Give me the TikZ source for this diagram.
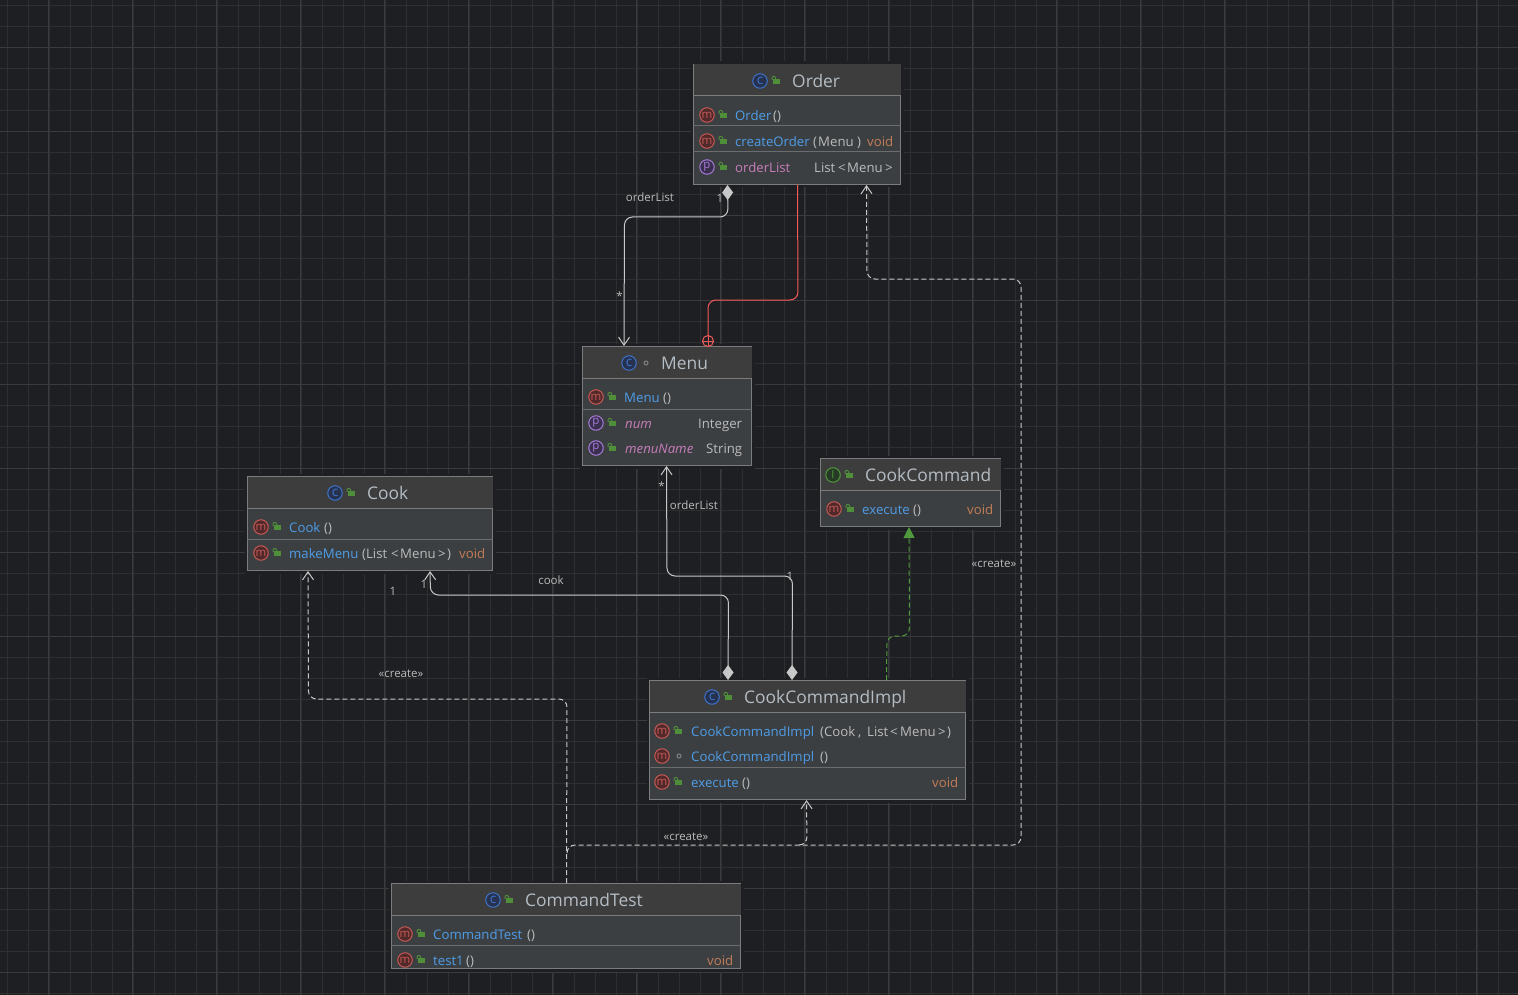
\documentclass[tikz,border=0pt]{standalone}
\usepackage{fontspec}
\setmainfont{Open Sans}
\usetikzlibrary{arrows.meta}
\definecolor{bgc}{HTML}{1E1F22}
\definecolor{gridmin}{HTML}{2E2F31}
\definecolor{gridmaj}{HTML}{3A3B3C}
\definecolor{hdrc}{HTML}{3D3D3D}
\definecolor{bodyc}{HTML}{3C3F41}
\definecolor{edgec}{HTML}{7C7C7C}
\definecolor{divc}{HTML}{6A6C6E}
\definecolor{bluet}{HTML}{4E9DE8}
\definecolor{greyt}{HTML}{BBBBBB}
\definecolor{oranget}{HTML}{C27D57}
\definecolor{pinkt}{HTML}{C77DBB}
\definecolor{titlet}{HTML}{B4BCC4}
\definecolor{lockc}{HTML}{4F8F3A}
\definecolor{linec}{HTML}{C8C8C8}
\definecolor{redl}{HTML}{F25A5A}
\definecolor{greenl}{HTML}{4F9A3C}
\definecolor{mring}{HTML}{C85A56}
\definecolor{mfill}{HTML}{51292B}
\definecolor{pring}{HTML}{A77BD8}
\definecolor{pfill}{HTML}{3B2F50}
\definecolor{cring}{HTML}{3F74CC}
\definecolor{cfill}{HTML}{26324F}
\definecolor{iring}{HTML}{4F9A3C}
\definecolor{ifill}{HTML}{263A26}
\newcounter{txtn}
\tikzset{
  x=1pt,y=-1pt,
  umlbox/.style={rectangle,draw=edgec,fill=bodyc,line width=1pt,inner sep=0pt,
    preaction={draw=bgc,line width=6pt}},
  rowtext/.style={anchor=base west,inner sep=0pt,font=\fontsize{13.2}{16}\selectfont},
  titletext/.style={anchor=base west,inner sep=0pt,text=titlet,font=\fontsize{17.4}{20}\selectfont},
  lbl/.style={anchor=center,inner sep=0pt,text=greyt,font=\fontsize{11.5}{14}\selectfont},
  ringc/.style={circle,draw=#1,line width=1pt,minimum size=14.5pt,inner sep=0pt},
  assoc/.style={draw=linec,line width=1pt,rounded corners=8pt},
  dashedl/.style={draw=linec,line width=1pt,rounded corners=8pt,dash pattern=on 5pt off 3pt},
  barb/.style={-{Straight Barb[length=8pt,width=11pt,line width=1pt]}},
  compb/.style={{Diamond[length=15pt,width=11pt,fill=linec]}-{Straight Barb[length=8pt,width=11pt,line width=1pt]}},
}
% box: name x0 y0 x1 y1 headerbottom
\newcommand{\umlb}[6]{%
  \pgfmathsetmacro{\bw}{#4-#2+1}\pgfmathsetmacro{\bh}{#5-#3+1}%
  \pgfmathsetmacro{\bx}{(#2+#4)/2}\pgfmathsetmacro{\by}{(#3+#5)/2}%
  \pgfmathsetmacro{\hh}{#6-#3}%
  \node[umlbox,minimum width=\bw pt,minimum height=\bh pt] (#1) at (\bx,\by) {};
  \fill[hdrc] ([shift={(.5pt,-.5pt)}]#1.north west) rectangle ([shift={(-.5pt,-\hh pt)}]#1.north east);
  \draw[edgec,line width=1pt] ([yshift=-\hh pt]#1.north west) -- ([yshift=-\hh pt]#1.north east);
}
\newcommand{\divl}[2]{\pgfmathsetmacro{\dd}{#2}\draw[divc,line width=1pt] ([yshift=-\dd pt]#1.north west) -- ([yshift=-\dd pt]#1.north east);}
% text
\newcommand{\rt}[4]{\stepcounter{txtn}\node[rowtext,text=#3] (r\thetxtn) at (#1,#2+5) {#4};}
\newcommand{\ttl}[3]{\stepcounter{txtn}\node[titletext] (r\thetxtn) at (#1,#2+6) {#3};}
\newcommand{\lab}[3]{\stepcounter{txtn}\node[lbl] (r\thetxtn) at (#1,#2) {#3};}
% icon
\newcommand{\ico}[6]{\stepcounter{txtn}\node[ringc=#4,fill=#5,text=#4,font=\fontsize{#6}{12}\selectfont] (r\thetxtn) at (#1,#2) {#3};}
\newcommand{\mi}[2]{\ico{#1}{#2}{m}{mring}{mfill}{11.5}}
\newcommand{\pii}[2]{\ico{#1}{#2}{p}{pring}{pfill}{11.5}}
\newcommand{\ci}[2]{\ico{#1}{#2}{c}{cring}{cfill}{13.5}}
\newcommand{\ii}[2]{\ico{#1}{#2}{I}{iring}{ifill}{11}}
\newcommand{\lk}[2]{\fill[lockc] (#1-3,#2-2) rectangle (#1+4,#2+3);\draw[lockc,line width=1pt,rounded corners=1pt] (#1-4,#2-1) -- (#1-4,#2-4.5) -- (#1-.5,#2-4.5) -- (#1-.5,#2-2);}
\newcommand{\dt}[2]{\draw[gray,line width=1pt] (#1,#2) circle (2pt);}
\begin{document}
\begin{tikzpicture}
\useasboundingbox (0,0) rectangle (1518,995);
\fill[bgc] (0,0) rectangle (1518,995);
\foreach \i in {0,...,72} {\draw[gridmin,line width=1pt] (7+21*\i,0) -- (7+21*\i,995);}
\foreach \i in {0,...,47} {\draw[gridmin,line width=1pt] (0,6+21*\i) -- (1518,6+21*\i);}
\foreach \i in {0,...,17} {\draw[gridmaj,line width=1pt] (48+84*\i,0) -- (48+84*\i,995);}
\foreach \i in {0,...,11} {\draw[gridmaj,line width=1pt] (0,48+84*\i) -- (1518,48+84*\i);}

\umlb{order}{694}{65}{900}{184}{97}
\divl{order}{62}\divl{order}{88}
\umlb{menu}{583}{347}{751}{465}{379}
\divl{menu}{63}
\umlb{cook}{248}{477}{492}{570}{509}
\divl{cook}{63}
\umlb{cmd}{821}{459}{1000}{526}{491}
\umlb{impl}{650}{681}{965}{799}{713}
\divl{impl}{87}
\umlb{test}{392}{884}{740}{968}{916}
\divl{test}{62}

% Order
\ci{760}{81}\lk{776}{81}\ttl{792}{82}{Order}
\mi{707}{115}\lk{723}{115}\rt{735}{116}{bluet}{Order}\rt{773}{116}{greyt}{()}
\mi{707}{141}\lk{723}{141}\rt{735}{142}{bluet}{createOrder}\rt{813}{142}{greyt}{(}\rt{818}{142}{greyt}{Menu}\rt{857}{142}{greyt}{)}\rt{867}{142}{oranget}{void}
\pii{707}{167}\lk{723}{167}\rt{735}{168}{pinkt}{orderList}\rt{814}{168}{greyt}{List}\rt{838}{168}{greyt}{<}\rt{847}{168}{greyt}{Menu}\rt{885}{168}{greyt}{>}
% Menu
\ci{629}{363}\dt{646}{363}\ttl{661}{363}{Menu}
\mi{596}{397}\lk{612}{397}\rt{624}{397}{bluet}{Menu}\rt{663}{397}{greyt}{()}
\pii{596}{423}\lk{612}{423}\rt{625}{423}{pinkt}{\itshape num}\rt{698}{423}{greyt}{Integer}
\pii{596}{448}\lk{612}{448}\rt{625}{448}{pinkt}{\itshape menuName}\rt{706}{448}{greyt}{String}
% Cook
\ci{335}{493}\lk{351}{493}\ttl{367}{493}{Cook}
\mi{261}{527}\lk{277}{527}\rt{289}{527}{bluet}{Cook}\rt{324}{527}{greyt}{()}
\mi{261}{553}\lk{277}{553}\rt{289}{553}{bluet}{makeMenu}\rt{362}{553}{greyt}{(List}\rt{391}{553}{greyt}{<}\rt{400}{553}{greyt}{Menu}\rt{438}{553}{greyt}{>}\rt{447}{553}{greyt}{)}\rt{459}{553}{oranget}{void}
% CookCommand
\ii{833}{475}\lk{849}{475}\ttl{865}{475}{CookCommand}
\mi{834}{509}\lk{850}{509}\rt{862}{509}{bluet}{execute}\rt{913}{509}{greyt}{()}\rt{967}{509}{oranget}{void}
% Impl
\ci{712}{697}\lk{728}{697}\ttl{744}{697}{CookCommandImpl}
\mi{662}{731}\lk{678}{731}\rt{691}{731}{bluet}{CookCommandImpl}\rt{820}{731}{greyt}{(Cook}\rt{858}{731}{greyt}{,}\rt{867}{731}{greyt}{List}\rt{890}{731}{greyt}{<}\rt{900}{731}{greyt}{Menu}\rt{938}{731}{greyt}{>}\rt{947}{731}{greyt}{)}
\mi{662}{756}\dt{679}{756}\rt{691}{756}{bluet}{CookCommandImpl}\rt{820}{756}{greyt}{()}
\mi{662}{782}\lk{678}{782}\rt{691}{782}{bluet}{execute}\rt{742}{782}{greyt}{()}\rt{932}{782}{oranget}{void}
% Test
\ci{493}{900}\lk{509}{900}\ttl{525}{900}{CommandTest}
\mi{405}{934}\lk{421}{934}\rt{433}{934}{bluet}{CommandTest}\rt{527}{934}{greyt}{()}
\mi{405}{960}\lk{421}{960}\rt{433}{960}{bluet}{test1}\rt{466}{960}{greyt}{()}\rt{707}{960}{oranget}{void}

% connectors
\coordinate (a1) at (728,217);\coordinate (a2) at (624.5,217);
\draw[assoc,compb] ([xshift=34.5pt]order.south west) -- (a1) -- (a2) -- ([xshift=42pt]menu.north west);

\node[circle,draw=redl,line width=1pt,minimum size=11pt,inner sep=0pt] (plus) at (708,341) {};
\draw[redl,line width=1pt] (plus.west) -- (plus.east) (plus.north) -- (plus.south);
\coordinate (r1) at (798,300);\coordinate (r2) at (708,300);
\draw[redl,line width=1pt,rounded corners=8pt] ([xshift=104.5pt]order.south west) -- (r1) -- (r2) -- (plus.north);

\coordinate (t0) at (567,853);\coordinate (t1) at (567,845);\coordinate (t2) at (1021,845);\coordinate (t3) at (1021,279);\coordinate (t4) at (867,279);
\draw[dashedl,barb] (t0) -- (t1) -- (t2) -- (t3) -- (t4) -- ([xshift=173.5pt]order.south west);
\coordinate (t4b) at (799,845);\coordinate (t5) at (807,845);
\draw[dashedl,barb] (t4b) -- (t5) -- ([xshift=157.5pt]impl.south west);
\coordinate (t6) at (567,699);\coordinate (t7) at (308.5,699);
\draw[dashedl,barb] ([xshift=175.5pt]test.north west) -- (t6) -- (t7) -- ([xshift=61pt]cook.south west);

\coordinate (m1) at (792.5,576);\coordinate (m2) at (667,576);
\draw[assoc,compb] ([xshift=143pt]impl.north west) -- (m1) -- (m2) -- ([xshift=84.5pt]menu.south west);
\coordinate (k1) at (728.5,595);\coordinate (k2) at (430.5,595);
\draw[assoc,compb] ([xshift=79pt]impl.north west) -- (k1) -- (k2) -- ([xshift=183pt]cook.south west);

\coordinate (g1) at (887,636);\coordinate (g2) at (909.5,636);
\draw[draw=greenl,line width=1pt,rounded corners=8pt,dash pattern=on 5pt off 3pt,-{Triangle[length=11pt,width=11pt,fill=greenl]}] ([xshift=237.5pt]impl.north west) -- (g1) -- (g2) -- ([xshift=89pt]cmd.south west);

% labels
\lab{650}{197}{orderList}\lab{720}{198}{1}\lab{619.5}{296}{*}
\lab{661.5}{486}{*}\lab{694}{505}{orderList}\lab{790}{576}{1}
\lab{551}{580}{cook}\lab{393}{591}{1}\lab{424}{584}{1}
\lab{994}{564}{«create»}\lab{686}{837}{«create»}\lab{401}{674}{«create»}
\end{tikzpicture}
\end{document}
